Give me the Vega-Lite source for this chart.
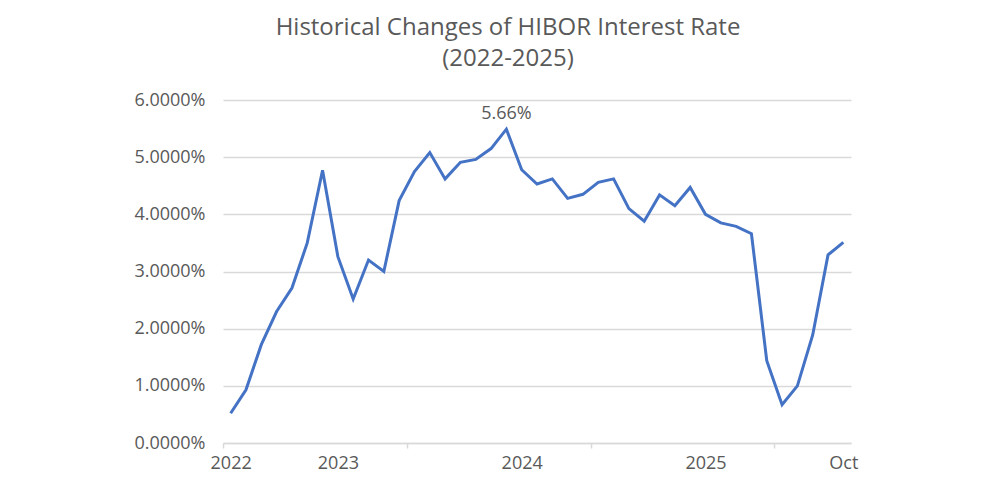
{
  "$schema": "https://vega.github.io/schema/vega-lite/v6.json",
  "autosize": {"type": "none"},
  "width": 628,
  "height": 343,
  "padding": {"left": 223, "top": 100, "right": 146, "bottom": 42},
  "background": "white",
  "title": {
    "text": ["Historical Changes of HIBOR Interest Rate", "(2022-2025)"],
    "font": "Open Sans",
    "fontSize": 24,
    "fontWeight": "normal",
    "color": "#595959",
    "lineHeight": 31,
    "anchor": "middle",
    "dx": -29,
    "offset": 20
  },
  "config": {
    "view": {"stroke": null},
    "font": "Open Sans"
  },
  "data": {
    "values": [
      {"i": 0, "period": "2022", "rate": 0.52},
      {"i": 1, "period": "", "rate": 0.93},
      {"i": 2, "period": "", "rate": 1.72},
      {"i": 3, "period": "", "rate": 2.30},
      {"i": 4, "period": "", "rate": 2.71},
      {"i": 5, "period": "", "rate": 3.50},
      {"i": 6, "period": "", "rate": 4.77},
      {"i": 7, "period": "2023", "rate": 3.26},
      {"i": 8, "period": "", "rate": 2.52},
      {"i": 9, "period": "", "rate": 3.20},
      {"i": 10, "period": "", "rate": 3.00},
      {"i": 11, "period": "", "rate": 4.24},
      {"i": 12, "period": "", "rate": 4.75},
      {"i": 13, "period": "", "rate": 5.08},
      {"i": 14, "period": "", "rate": 4.62},
      {"i": 15, "period": "", "rate": 4.91},
      {"i": 16, "period": "", "rate": 4.96},
      {"i": 17, "period": "", "rate": 5.15},
      {"i": 18, "period": "", "rate": 5.49, "label": "5.66%"},
      {"i": 19, "period": "2024", "rate": 4.78},
      {"i": 20, "period": "", "rate": 4.53},
      {"i": 21, "period": "", "rate": 4.62},
      {"i": 22, "period": "", "rate": 4.28},
      {"i": 23, "period": "", "rate": 4.35},
      {"i": 24, "period": "", "rate": 4.56},
      {"i": 25, "period": "", "rate": 4.62},
      {"i": 26, "period": "", "rate": 4.10},
      {"i": 27, "period": "", "rate": 3.88},
      {"i": 28, "period": "", "rate": 4.34},
      {"i": 29, "period": "", "rate": 4.15},
      {"i": 30, "period": "", "rate": 4.47},
      {"i": 31, "period": "2025", "rate": 4.00},
      {"i": 32, "period": "", "rate": 3.85},
      {"i": 33, "period": "", "rate": 3.79},
      {"i": 34, "period": "", "rate": 3.66},
      {"i": 35, "period": "", "rate": 1.44},
      {"i": 36, "period": "", "rate": 0.67},
      {"i": 37, "period": "", "rate": 1.00},
      {"i": 38, "period": "", "rate": 1.89},
      {"i": 39, "period": "", "rate": 3.29},
      {"i": 40, "period": "Oct", "rate": 3.51}
    ]
  },
  "encoding": {
    "x": {
      "field": "i",
      "type": "quantitative",
      "scale": {"domain": [-0.5, 40.5], "nice": false, "zero": false},
      "axis": {
        "title": null,
        "grid": false,
        "values": [-0.5, 0, 7, 11.5, 19, 23.5, 31, 35.5, 40],
        "labelExpr": "datum.value == 0 ? '2022' : datum.value == 7 ? '2023' : datum.value == 19 ? '2024' : datum.value == 31 ? '2025' : datum.value == 40 ? 'Oct' : ''",
        "labelFontSize": 18,
        "labelColor": "#595959",
        "labelFont": "Open Sans",
        "labelOverlap": false,
        "labelFlush": false,
        "labelBound": false,
        "labelPadding": 6,
        "domainColor": "#d9d9d9",
        "domainWidth": 1.5,
        "tickColor": "#d9d9d9",
        "tickWidth": 1.5,
        "tickSize": 5,
        "tickOpacity": {"condition": {"test": "datum.value % 1 != 0", "value": 1}, "value": 0}
      }
    },
    "y": {
      "field": "rate",
      "type": "quantitative",
      "scale": {"domain": [0, 6], "nice": false},
      "axis": {
        "title": null,
        "values": [0, 1, 2, 3, 4, 5, 6],
        "labelExpr": "format(datum.value, '.4f') + '%'",
        "labelFontSize": 18,
        "labelColor": "#595959",
        "labelFont": "Open Sans",
        "labelPadding": 18,
        "domain": false,
        "ticks": false,
        "gridColor": "#d9d9d9",
        "gridWidth": 1.5
      }
    }
  },
  "layer": [
    {
      "mark": {"type": "line", "color": "#4472C4", "strokeWidth": 3, "strokeJoin": "miter"}
    },
    {
      "transform": [{"filter": "datum.label"}],
      "mark": {"type": "text", "fontSize": 18, "color": "#595959", "dy": -15, "font": "Open Sans"},
      "encoding": {"text": {"field": "label"}}
    }
  ]
}
